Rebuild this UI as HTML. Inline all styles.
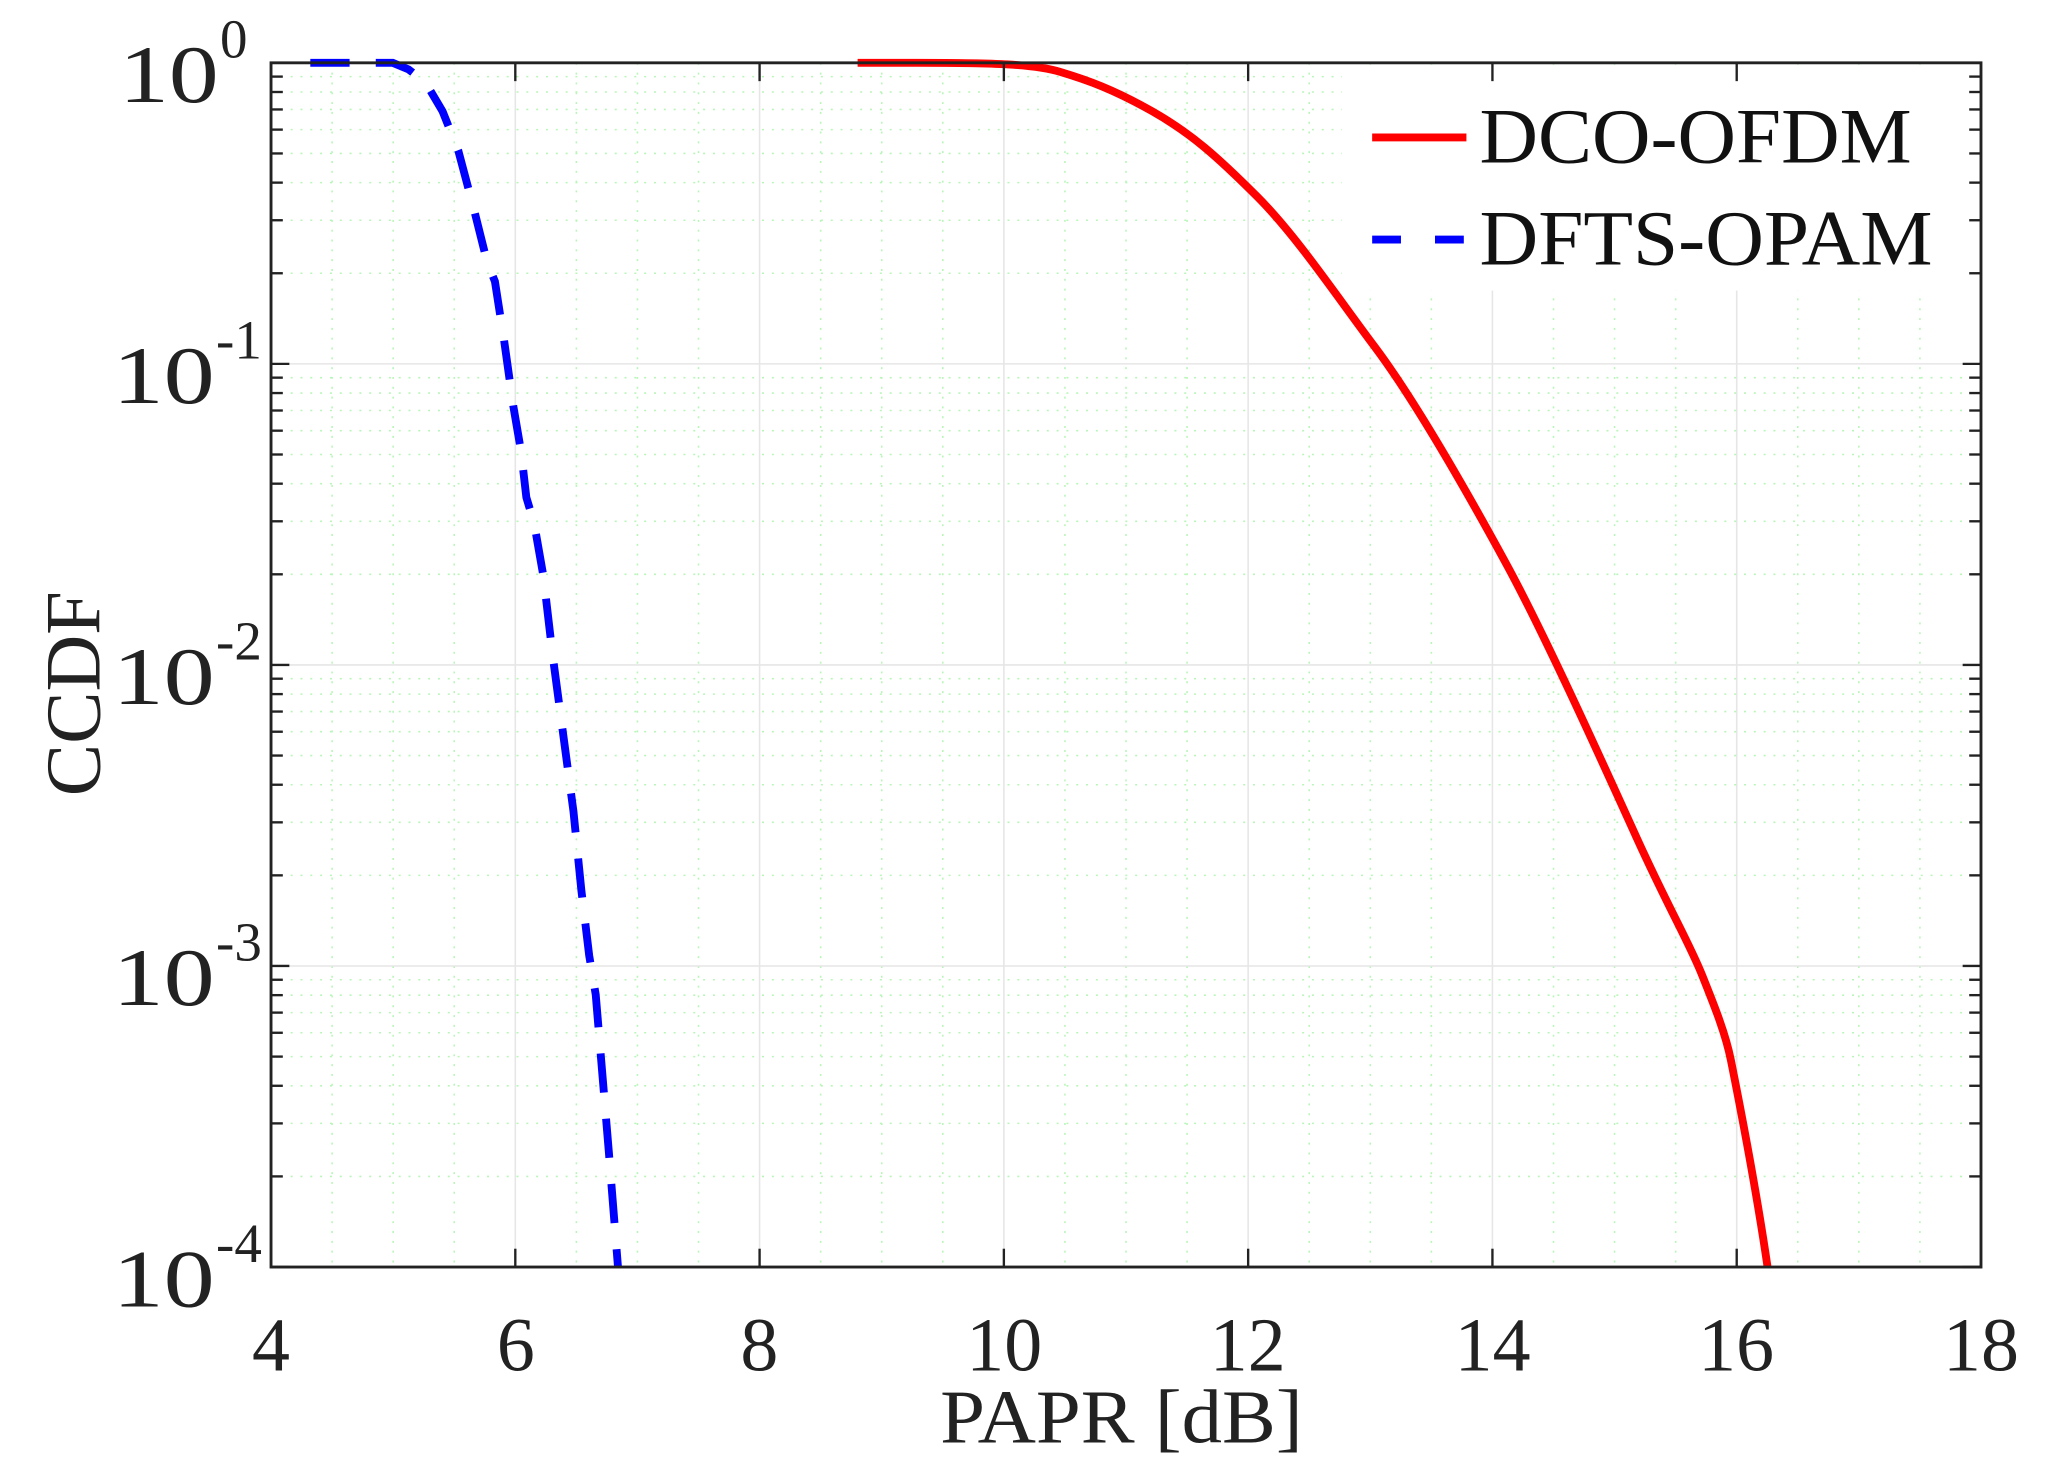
<!DOCTYPE html>
<html><head><meta charset="utf-8"><style>html,body{margin:0;padding:0;background:#fff}svg{display:block}</style></head>
<body>
<svg id="s" width="2053" height="1483" viewBox="0 0 1568 1133" preserveAspectRatio="none" xmlns="http://www.w3.org/2000/svg" font-family="Liberation Serif, serif">
<g id="grid"></g>
<rect x="1025" y="54" width="486" height="168" fill="#fff"/>
<path fill="none" stroke="#ff0000" stroke-width="6" stroke-linejoin="round" d="M655,48 L700,48 C760,48 790,49 810,55 S850,68 880,85 S930,120 960,150 S1020,225 1050,265 S1120,375 1150,430 S1225,585 1250,640 S1290,720 1300,745 S1318,790 1322,810 S1340,900 1350,968"/>
<polyline fill="none" stroke="#0000ff" stroke-width="6" stroke-dasharray="30,20" points="237,48 300,48 312,53 325,63 338,85 350,115 362,160 372,200 378,215 385,260 392,310 398,345 402,380 408,400 415,440 422,500 430,560 438,620 444,680 450,730 455,760 460,820 465,880 472,968"/>
<g id="axes"></g>
<line x1="1048" y1="105" x2="1120" y2="105" stroke="#ff0000" stroke-width="6"/>
<line x1="1048" y1="183" x2="1120" y2="183" stroke="#0000ff" stroke-width="6" stroke-dasharray="22,26"/>
<text x="1130" y="124" font-size="60" fill="#111" textLength="330" lengthAdjust="spacingAndGlyphs">DCO-OFDM</text>
<text x="1130" y="202" font-size="60" fill="#111" textLength="346" lengthAdjust="spacingAndGlyphs">DFTS-OPAM</text>
<g font-size="58" fill="#222">
<text x="207" y="1047" text-anchor="middle">4</text>
<text x="394" y="1047" text-anchor="middle">6</text>
<text x="580" y="1047" text-anchor="middle">8</text>
<text x="767" y="1047" text-anchor="middle">10</text>
<text x="953" y="1047" text-anchor="middle">12</text>
<text x="1140" y="1047" text-anchor="middle">14</text>
<text x="1326" y="1047" text-anchor="middle">16</text>
<text x="1513" y="1047" text-anchor="middle">18</text>
<text x="718" y="1102" textLength="277" lengthAdjust="spacingAndGlyphs">PAPR [dB]</text>
<text transform="translate(76,530) rotate(-90)" text-anchor="middle" font-size="60">CCDF</text>
</g>
<g font-size="62" fill="#222" id="ylab"></g>
</svg>
<script>
var L=207,R=1513,T=48,B=968,xu=(R-L)/14,dec=230;
var g=document.getElementById('grid'),a=document.getElementById('axes'),yl=document.getElementById('ylab');
var h='';
for(var x=4.5;x<18;x+=0.5){var px=L+(x-4)*xu; if(x%2==0) h+='<line x1="'+px+'" y1="'+T+'" x2="'+px+'" y2="'+B+'" stroke="#e6e6e6" stroke-width="1.2"/>'; else h+='<line x1="'+px+'" y1="'+T+'" x2="'+px+'" y2="'+B+'" stroke="#b8f5b8" stroke-width="1.2" stroke-dasharray="1.5,6"/>';}
for(var d=0;d<4;d++){for(var k=2;k<=9;k++){var py=T+dec*(d+1)-Math.log10(k)*dec; h+='<line x1="'+L+'" y1="'+py+'" x2="'+R+'" y2="'+py+'" stroke="#b8f5b8" stroke-width="1.2" stroke-dasharray="1.5,6"/>';}
if(d>0){var py2=T+dec*d;h+='<line x1="'+L+'" y1="'+py2+'" x2="'+R+'" y2="'+py2+'" stroke="#e6e6e6" stroke-width="1.2"/>';}}
g.innerHTML=h;
h='<rect x="'+L+'" y="'+T+'" width="'+(R-L)+'" height="'+(B-T)+'" fill="none" stroke="#222" stroke-width="2.2"/>';
for(var x=6;x<18;x+=2){var px=L+(x-4)*xu;h+='<line x1="'+px+'" y1="'+B+'" x2="'+px+'" y2="'+(B-14)+'" stroke="#222" stroke-width="1.8"/><line x1="'+px+'" y1="'+T+'" x2="'+px+'" y2="'+(T+14)+'" stroke="#222" stroke-width="1.8"/>';}
for(var d=0;d<=4;d++){var py=T+dec*d;h+='<line x1="'+L+'" y1="'+py+'" x2="'+(L+14)+'" y2="'+py+'" stroke="#222" stroke-width="1.8"/><line x1="'+R+'" y1="'+py+'" x2="'+(R-14)+'" y2="'+py+'" stroke="#222" stroke-width="1.8"/>';
if(d<4)for(var k=2;k<=9;k++){var q=T+dec*(d+1)-Math.log10(k)*dec;h+='<line x1="'+L+'" y1="'+q+'" x2="'+(L+9)+'" y2="'+q+'" stroke="#222" stroke-width="1.8"/><line x1="'+R+'" y1="'+q+'" x2="'+(R-9)+'" y2="'+q+'" stroke="#222" stroke-width="1.8"/>';}}
a.innerHTML=h;
h='';var ex=['0','-1','-2','-3','-4'];
for(var d=0;d<=4;d++){var py=T+dec*d;var xe=(d==0?167:164);h+='<text x="'+xe+'" y="'+(py+30)+'" text-anchor="end" textLength="'+(d==0?76:78)+'" lengthAdjust="spacingAndGlyphs">10</text><text x="'+(xe+1)+'" y="'+(py-4)+'" font-size="42">'+ex[d]+'</text>';}
yl.innerHTML=h;
</script>
</body></html>
